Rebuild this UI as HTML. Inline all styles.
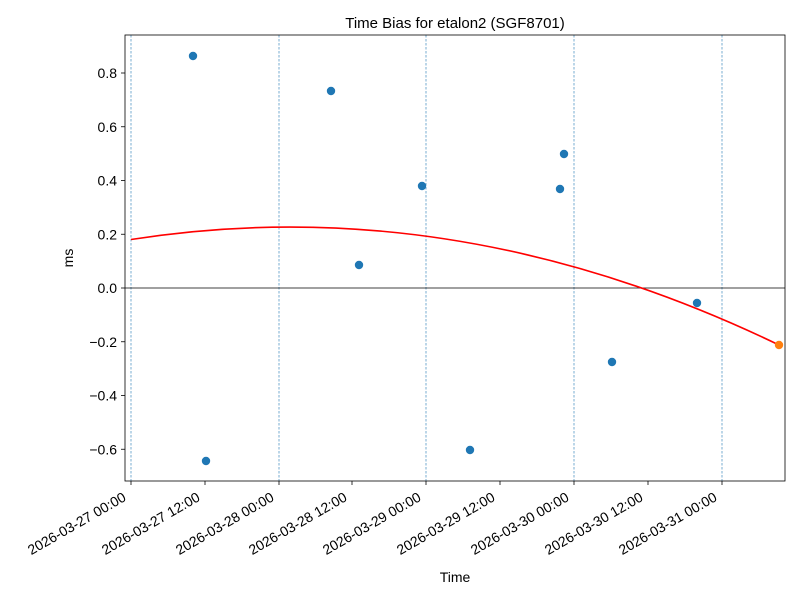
<!DOCTYPE html>
<html><head><meta charset="utf-8"><style>
body{margin:0;background:#fff}
svg{display:block;font-family:"Liberation Sans","DejaVu Sans",sans-serif}
</style></head><body>
<svg width="800" height="600" viewBox="0 0 800 600" xmlns="http://www.w3.org/2000/svg">
<rect width="800" height="600" fill="#fff"/>
<text x="455" y="28" font-size="15" text-anchor="middle">Time Bias for etalon2 (SGF8701)</text>
<g stroke="#1f77b4" stroke-width="0.6" stroke-dasharray="2.5,1.5">
<line x1="131" y1="35" x2="131" y2="481"/>
<line x1="279" y1="35" x2="279" y2="481"/>
<line x1="426" y1="35" x2="426" y2="481"/>
<line x1="574" y1="35" x2="574" y2="481"/>
<line x1="722" y1="35" x2="722" y2="481"/>
</g>
<line x1="125" y1="288" x2="785" y2="288" stroke="#000" stroke-width="0.8"/>
<path d="M131,239.5 Q455,188.7 779,345" fill="none" stroke="#ff0000" stroke-width="1.6"/>
<g fill="#1f77b4">
<circle cx="193" cy="56" r="4.2"/><circle cx="206" cy="461" r="4.2"/>
<circle cx="331" cy="91" r="4.2"/><circle cx="359" cy="265" r="4.2"/>
<circle cx="422" cy="186" r="4.2"/><circle cx="470" cy="450" r="4.2"/>
<circle cx="560" cy="189" r="4.2"/><circle cx="564" cy="154" r="4.2"/>
<circle cx="612" cy="362" r="4.2"/><circle cx="697" cy="303" r="4.2"/>
</g>
<circle cx="779" cy="345" r="4.2" fill="#ff7f0e"/>
<rect x="125" y="35" width="660" height="446" fill="none" stroke="#000" stroke-width="0.8"/>
<g font-size="14" text-anchor="end">
<g stroke="#000" stroke-width="0.8">
<line x1="121" y1="73" x2="125" y2="73"/><line x1="121" y1="126.75" x2="125" y2="126.75"/>
<line x1="121" y1="180.5" x2="125" y2="180.5"/><line x1="121" y1="234.25" x2="125" y2="234.25"/>
<line x1="121" y1="288" x2="125" y2="288"/><line x1="121" y1="341.75" x2="125" y2="341.75"/>
<line x1="121" y1="395.5" x2="125" y2="395.5"/><line x1="121" y1="449.25" x2="125" y2="449.25"/>
</g>
<text x="117" y="78">0.8</text><text x="117" y="131.75">0.6</text>
<text x="117" y="185.5">0.4</text><text x="117" y="239.25">0.2</text>
<text x="117" y="293">0.0</text><text x="117" y="346.75">−0.2</text>
<text x="117" y="400.5">−0.4</text><text x="117" y="454.25">−0.6</text>
</g>
<text x="73" y="258" font-size="14" text-anchor="middle" transform="rotate(-90 73 258)">ms</text>
<g stroke="#000" stroke-width="0.8">
<line x1="131" y1="481" x2="131" y2="485"/><line x1="205" y1="481" x2="205" y2="485"/>
<line x1="279" y1="481" x2="279" y2="485"/><line x1="352" y1="481" x2="352" y2="485"/>
<line x1="426" y1="481" x2="426" y2="485"/><line x1="500" y1="481" x2="500" y2="485"/>
<line x1="574" y1="481" x2="574" y2="485"/><line x1="648" y1="481" x2="648" y2="485"/>
<line x1="722" y1="481" x2="722" y2="485"/>
</g>
<g font-size="14" text-anchor="end">
<text transform="translate(127,500) rotate(-30)">2026-03-27 00:00</text>
<text transform="translate(201,500) rotate(-30)">2026-03-27 12:00</text>
<text transform="translate(275,500) rotate(-30)">2026-03-28 00:00</text>
<text transform="translate(348,500) rotate(-30)">2026-03-28 12:00</text>
<text transform="translate(422,500) rotate(-30)">2026-03-29 00:00</text>
<text transform="translate(496,500) rotate(-30)">2026-03-29 12:00</text>
<text transform="translate(570,500) rotate(-30)">2026-03-30 00:00</text>
<text transform="translate(644,500) rotate(-30)">2026-03-30 12:00</text>
<text transform="translate(718,500) rotate(-30)">2026-03-31 00:00</text>
</g>
<text x="455" y="582" font-size="14" text-anchor="middle">Time</text>
</svg>
</body></html>
